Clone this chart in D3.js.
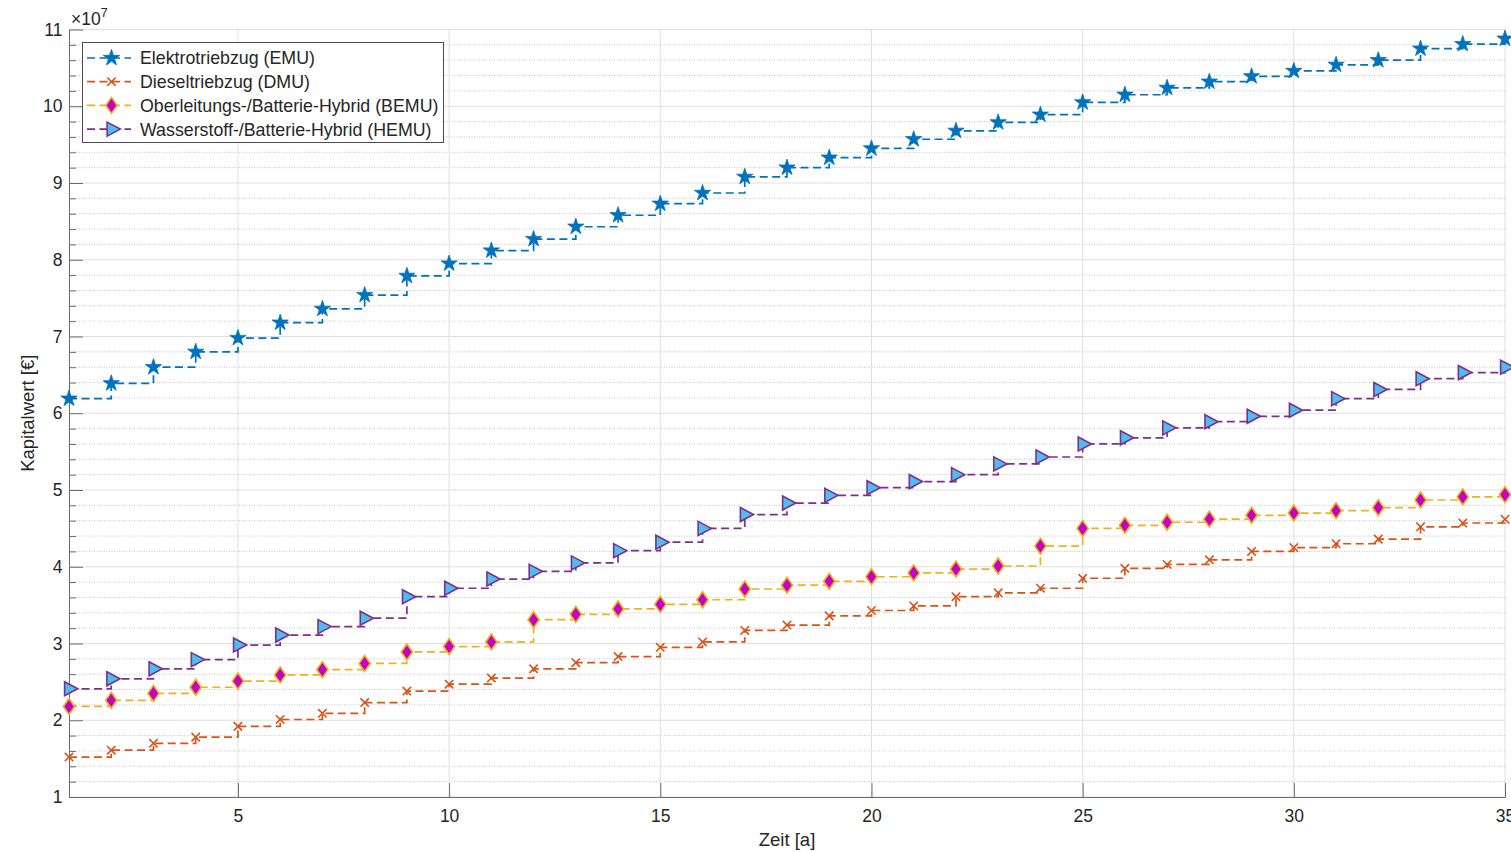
<!DOCTYPE html>
<html>
<head>
<meta charset="utf-8">
<script src="https://cdn.jsdelivr.net/npm/d3@7"></script>
<style>
  html, body { margin: 0; padding: 0; background: #fff; }
  svg { display: block; font-family: "Liberation Sans", Arial, Helvetica, sans-serif; }
</style>
</head>
<body>
<div id="chart"></div>
<script>
// years on the x axis
const years = [1,2,3,4,5,6,7,8,9,10,11,12,13,14,15,16,17,18,19,20,21,22,23,24,25,26,27,28,29,30,31,32,33,34,35];

// capital value, in units of 1e7 EUR
const emu  = [6.19,6.39,6.60,6.80,6.98,7.18,7.36,7.54,7.79,7.95,8.12,8.27,8.43,8.58,8.73,8.87,9.08,9.20,9.33,9.45,9.57,9.68,9.79,9.89,10.05,10.15,10.24,10.32,10.39,10.46,10.54,10.60,10.75,10.81,10.88];
const dmu  = [1.52,1.61,1.70,1.78,1.92,2.01,2.09,2.23,2.38,2.47,2.55,2.67,2.75,2.83,2.95,3.02,3.17,3.24,3.36,3.43,3.49,3.61,3.66,3.72,3.85,3.98,4.03,4.09,4.20,4.25,4.30,4.36,4.52,4.57,4.62];
const bemu = [2.18,2.26,2.35,2.43,2.51,2.59,2.66,2.74,2.89,2.96,3.02,3.31,3.38,3.45,3.51,3.57,3.71,3.76,3.81,3.87,3.92,3.97,4.01,4.27,4.50,4.54,4.58,4.62,4.67,4.70,4.73,4.77,4.87,4.91,4.94];
const hemu = [2.41,2.54,2.67,2.79,2.98,3.11,3.22,3.33,3.61,3.72,3.84,3.94,4.05,4.21,4.32,4.50,4.68,4.83,4.93,5.03,5.11,5.20,5.34,5.43,5.60,5.68,5.81,5.89,5.96,6.04,6.19,6.31,6.45,6.53,6.60];

const seriesNames = ["Elektrotriebzug (EMU)", "Dieseltriebzug (DMU)", "Oberleitungs-/Batterie-Hybrid (BEMU)", "Wasserstoff-/Batterie-Hybrid (HEMU)"];

const xTicks = [5,10,15,20,25,30,35];
const yTicks = [1,2,3,4,5,6,7,8,9,10,11];

const width = 1511, height = 852;
const margin = {top: 29.5, right: 6, bottom: 55, left: 69};

// marker + line styles, matlab default colors
const styles = [
  {line: "#0072BD", marker: "star",     fill: "#0072BD", edge: "#0072BD"},
  {line: "#D95319", marker: "cross",    fill: "none",    edge: "#D95319"},
  {line: "#EDB120", marker: "diamond",  fill: "#c400c4", edge: "#EDB120"},
  {line: "#7E2F8E", marker: "triangle", fill: "#4DBEEE", edge: "#7E2F8E"}
];

const series = [emu, dmu, bemu, hemu].map((vals, i) => ({
  name: seriesNames[i],
  style: styles[i],
  points: years.map((yr, j) => ({x: yr, y: vals[j]}))
}));

const svg = d3.select("#chart").append("svg")
  .attr("width", width)
  .attr("height", height)
  .attr("viewBox", [0, 0, width, height]);

const x = d3.scaleLinear().domain([1, 35]).range([margin.left, width - margin.right]);
const y = d3.scaleLinear().domain([1, 11]).range([height - margin.bottom, margin.top]);

const x0 = x.range()[0], x1 = x.range()[1];
const y0 = y.range()[0], y1 = y.range()[1];

// minor grid (y only, dotted)
const yMinor = d3.range(1, 11.001, 0.2).filter(v => Math.abs(v - Math.round(v)) > 1e-6);
svg.append("g")
  .selectAll("line")
  .data(yMinor)
  .join("line")
    .attr("x1", x0).attr("x2", x1)
    .attr("y1", d => y(d)).attr("y2", d => y(d))
    .attr("stroke", "#c6c6c6")
    .attr("stroke-width", 1)
    .attr("stroke-dasharray", "1,1.5");

// major grid
svg.append("g")
  .selectAll("line")
  .data(yTicks)
  .join("line")
    .attr("x1", x0).attr("x2", x1)
    .attr("y1", d => y(d)).attr("y2", d => y(d))
    .attr("stroke", "#dfdfdf")
    .attr("stroke-width", 1);
svg.append("g")
  .selectAll("line")
  .data(xTicks)
  .join("line")
    .attr("x1", d => x(d)).attr("x2", d => x(d))
    .attr("y1", y0).attr("y2", y1)
    .attr("stroke", "#dfdfdf")
    .attr("stroke-width", 1);

// axes, ticks pointing inward
const axisColor = "#6b6b6b";
const textColor = "#262626";

svg.append("g")
  .attr("transform", `translate(0,${y0})`)
  .call(d3.axisBottom(x).tickValues(xTicks).tickSizeInner(-14).tickSizeOuter(0).tickPadding(13));

svg.append("g")
  .attr("transform", `translate(${x0},0)`)
  .call(d3.axisLeft(y).tickValues(yTicks).tickSizeInner(-14).tickSizeOuter(0).tickPadding(6.5));

svg.append("g")
  .attr("transform", `translate(${x0},0)`)
  .call(d3.axisLeft(y).tickValues(yMinor).tickFormat("").tickSizeInner(-7).tickSizeOuter(0))
  .call(g => g.select(".domain").remove());

svg.selectAll(".domain, .tick line").attr("stroke", axisColor);
svg.selectAll(".tick text")
  .attr("fill", textColor)
  .style("font-size", "17.5px")
  .style("font-family", "'Liberation Sans', Arial, sans-serif");

// exponent label
const expo = svg.append("text")
  .attr("x", 71)
  .attr("y", 25)
  .attr("fill", textColor)
  .style("font-size", "17.5px");
expo.append("tspan").text("\u00d710");
expo.append("tspan").attr("dy", -8).style("font-size", "12.5px").text("7");

// axis labels
svg.append("text")
  .attr("x", (x0 + x1) / 2)
  .attr("y", 846)
  .attr("text-anchor", "middle")
  .attr("fill", textColor)
  .style("font-size", "18.5px")
  .text("Zeit [a]");

svg.append("text")
  .attr("transform", `translate(34,${(y0 + y1) / 2}) rotate(-90)`)
  .attr("text-anchor", "middle")
  .attr("fill", textColor)
  .style("font-size", "18.5px")
  .text("Kapitalwert [\u20ac]");

// marker shapes
function markerPath(kind) {
  if (kind === "star") return d3.symbol(d3.symbolStar, 82)();
  if (kind === "cross") return "M-4.2,-4.2L4.2,4.2M-4.2,4.2L4.2,-4.2";
  if (kind === "diamond") return "M0,-8L5.6,0L0,8L-5.6,0Z";
  return "M-4.4,-7L8.8,0L-4.4,7Z";
}

const stairs = d3.line()
  .x(d => x(d.x))
  .y(d => y(d.y))
  .curve(d3.curveStepAfter);

const plot = svg.append("g");

series.forEach(s => {
  const g = plot.append("g");
  g.append("path")
    .datum(s.points)
    .attr("d", stairs)
    .attr("fill", "none")
    .attr("stroke", s.style.line)
    .attr("stroke-width", 1.7)
    .attr("stroke-dasharray", "8,4.5");

  g.selectAll("path.mk")
    .data(s.points)
    .join("path")
      .attr("class", "mk")
      .attr("transform", d => `translate(${x(d.x)},${y(d.y)})`)
      .attr("d", markerPath(s.style.marker))
      .attr("fill", s.style.fill)
      .attr("stroke", s.style.edge)
      .attr("stroke-width", s.style.marker === "star" ? 0.8 : 1.6)
      .attr("stroke-linejoin", "miter");
});

// legend
const legend = svg.append("g");
legend.append("rect")
  .attr("x", 82.5).attr("y", 42.5)
  .attr("width", 361).attr("height", 100)
  .attr("fill", "#fff")
  .attr("stroke", "#4d4d4d")
  .attr("stroke-width", 1);

const entries = legend.selectAll("g.entry")
  .data(series)
  .join("g")
    .attr("class", "entry")
    .attr("transform", (d, i) => `translate(0,${58 + i * 23.7})`);

entries.append("line")
  .attr("x1", 87).attr("x2", 131)
  .attr("stroke", d => d.style.line)
  .attr("stroke-width", 1.7)
  .attr("stroke-dasharray", "8,4.5");

entries.append("path")
  .attr("transform", "translate(111.5,0)")
  .attr("d", d => markerPath(d.style.marker))
  .attr("fill", d => d.style.fill)
  .attr("stroke", d => d.style.edge)
  .attr("stroke-width", d => d.style.marker === "star" ? 0.8 : 1.6);

entries.append("text")
  .attr("x", 140)
  .attr("dy", "0.36em")
  .attr("fill", textColor)
  .style("font-size", "17.8px")
  .text(d => d.name);
</script>
</body>
</html>
